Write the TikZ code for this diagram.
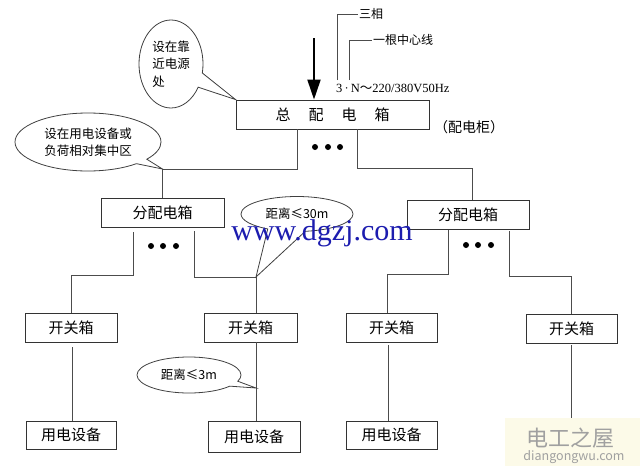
\documentclass[tikz,border=0pt]{standalone}
\usepackage{fontspec}
\setmainfont{Liberation Serif}
\newfontfamily\cjk{Noto Sans CJK SC}
\usetikzlibrary{shapes.callouts,shapes.geometric,arrows.meta,calc}
\definecolor{wmblue}{RGB}{28,28,175}
\definecolor{wmbg}{RGB}{252,250,232}
\definecolor{wmgray}{RGB}{160,160,160}
\begin{document}
\begin{tikzpicture}[x=1pt,y=-1pt,
  box/.style={draw=black!80, line width=0.9pt, minimum height=29pt, inner sep=0pt,
    font=\cjk\fontsize{15}{15}\selectfont},
  wire/.style={draw=black!70, line width=0.9pt},
  bubble/.style={ellipse callout, draw=black!75, line width=0.8pt, inner sep=0pt,
    font=\cjk\fontsize{12.5}{17.5}\selectfont, align=left},
  dot/.style={circle, fill=black, minimum size=6pt, inner sep=0pt},
  lbl/.style={inner sep=1pt, font=\cjk\fontsize{12}{12}\selectfont}
]
\useasboundingbox (0,0) rectangle (640,466);
\fill[white] (0,0) rectangle (640,466);

% boxes
\node[box, minimum width=193pt] (main) at (332.5,114.5) {总\hspace{18pt}配\hspace{18pt}电\hspace{18pt}箱};
\node[box, minimum width=123pt] (fd1) at (162.5,212.5) {分配电箱};
\node[box, minimum width=122pt] (fd2) at (468,214.5) {分配电箱};
\node[box, minimum width=92pt] (kg1) at (71,327.5) {开关箱};
\node[box, minimum width=93pt] (kg2) at (250.5,327.5) {开关箱};
\node[box, minimum width=91pt] (kg3) at (391.5,327.5) {开关箱};
\node[box, minimum width=91pt] (kg4) at (571.5,328.5) {开关箱};
\node[box, minimum width=90pt, minimum height=28pt] (yd1) at (71,435) {用电设备};
\node[box, minimum width=92pt, minimum height=31pt] (yd2) at (254,436.5) {用电设备};
\node[box, minimum width=91pt, minimum height=28pt] (yd3) at (391.5,435) {用电设备};

% incoming arrow
\coordinate (arrtop) at (314,38);
\draw[line width=2pt, -{Triangle[length=20pt,width=13pt]}] (arrtop) -- (arrtop |- main.north);

% labels top right
\node[lbl, anchor=west] (sanxiang) at (358,14) {三相};
\node[lbl, anchor=west] (zhongxin) at (372,40) {一根中心线};
\node[inner sep=0pt, anchor=west, font=\fontsize{12.5}{12.5}\selectfont] (volt) at (336,88) {3\,·\,N{\cjk ～}220/380V50Hz};
\coordinate (v1) at (337,80);
\coordinate (v2) at (349,80);
\draw[wire, line width=0.8pt] (v1) |- (sanxiang.west);
\draw[wire, line width=0.8pt] (v2) |- (zhongxin.west);
\node[inner sep=0pt, font=\cjk\fontsize{14}{14}\selectfont] (gui) at (469,127) {（配电柜）};

% wires main -> fd
\coordinate (m1) at (297,169);
\coordinate (m2) at (357,168);
\coordinate (m2b) at (472,168);
\draw[wire] (m1 |- main.south) -- (m1) -| (fd1.north);
\draw[wire] (m2 |- main.south) -- (m2) -- (m2b) -- (m2b |- fd2.north);

% wires fd1 -> kg
\coordinate (a1) at (133,232);
\coordinate (a2) at (133,275);
\coordinate (b1) at (194,231);
\coordinate (b2) at (194,277);
\coordinate (c30) at (256,277);
\draw[wire] (a1) -- (a2) -| (kg1.north);
\draw[wire] (b1) -- (b2) -- (c30) -- (c30 |- kg2.north);

% wires fd2 -> kg
\coordinate (e1) at (448,230);
\coordinate (e2) at (448,274);
\coordinate (e3) at (387,274);
\coordinate (f1) at (509,231);
\coordinate (f2) at (509,276);
\draw[wire] (e1) -- (e2) -- (e3) -- (e3 |- kg3.north);
\draw[wire] (f1) -- (f2) -| (kg4.north);

% wires kg -> yd
\coordinate (g1) at (72,347);
\coordinate (g3) at (388,345);
\coordinate (g4) at (571,345);
\coordinate (g4e) at (571,418);
\coordinate (c3) at (256,388);
\draw[wire] (g1) -- (g1 |- yd1.north);
\draw[wire] (c30 |- kg2.south) -- (c30 |- yd2.north);
\draw[wire] (g3) -- (g3 |- yd3.north);
\draw[wire] (g4) -- (g4e);

% dots
\node[dot] (d11) at (315,147) {};
\node[dot] (d12) at (328,147) {};
\node[dot] (d13) at (340,147) {};
\node[dot] (d21) at (151,246) {};
\node[dot] (d22) at (163,246) {};
\node[dot] (d23) at (176,246) {};
\node[dot] (d31) at (466,245) {};
\node[dot] (d32) at (478,245) {};
\node[dot] (d33) at (491,245) {};

% callouts
\node[bubble, minimum width=64pt, minimum height=88pt, callout pointer arc=20,
  callout absolute pointer={(main.north west)}] (cb1) at (171,64) {设在靠\\近电源\\处};
\node[bubble, minimum width=146pt, minimum height=58pt, callout pointer arc=12,
  callout absolute pointer={(m1 -| fd1.north)}] (cb2) at (88,142) {设在用电设备或\\负荷相对集中区};
\node[bubble, minimum width=112pt, minimum height=35pt, callout pointer arc=40,
  callout absolute pointer={(c30)}] (cb3) at (297,214) {{\cjk 距离≤}30m};
\node[bubble, minimum width=104pt, minimum height=36pt, callout pointer arc=18,
  callout absolute pointer={(c3)}] (cb4) at (189,375) {{\cjk 距离≤}3m};

% watermarks
\node[anchor=base, inner sep=0pt, text=wmblue, font=\fontsize{30}{30}\selectfont] (wm1) at (322,240) {www.dgzj.com};
\fill[wmbg] (505,418) rectangle (640,466);
\node[inner sep=0pt, text=wmgray, font=\cjk\fontsize{22}{22}\selectfont] (wm2) at (570,438) {电工之屋};
\node[inner sep=0pt, text=wmgray, font=\cjk\fontsize{12.5}{12.5}\selectfont] (wm3) at (574,457) {diangongwu.com};
\end{tikzpicture}
\end{document}
